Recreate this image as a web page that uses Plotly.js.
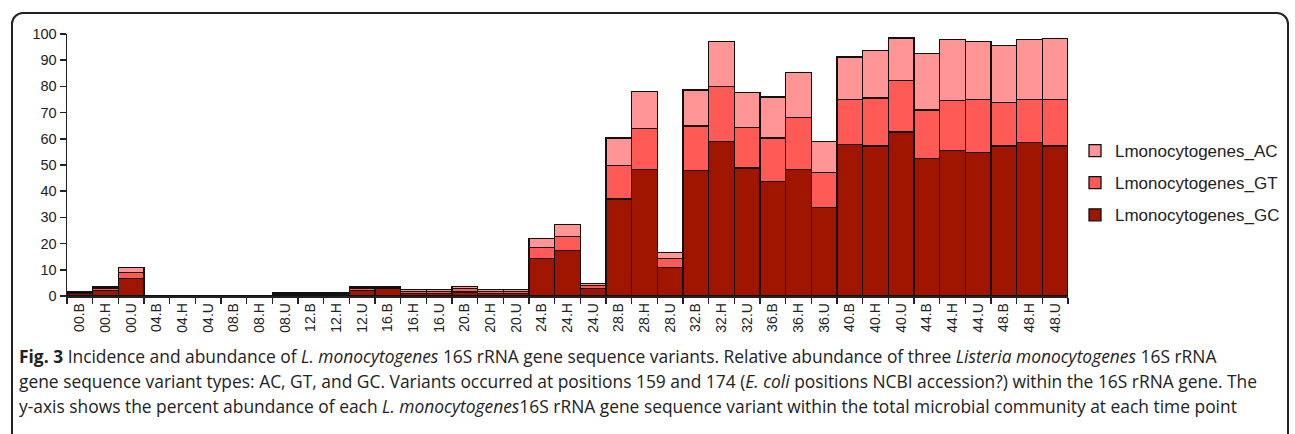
<!DOCTYPE html>
<html>
<head>
<meta charset="utf-8">
<script src="https://cdn.plot.ly/plotly-3.0.1.min.js"></script>
<style>
  html, body { margin:0; padding:0; background:#fff; width:1295px; height:434px; overflow:hidden; }
  #frame { position:absolute; left:11px; top:12px; width:1278px; height:440px; border:2px solid #222; border-radius:12px; box-sizing:border-box; }
  #chart { position:absolute; left:0; top:0; width:1320px; height:345px; }
  #caption { position:absolute; left:19px; top:344px; font-family:"Open Sans", sans-serif; font-size:17.4px; line-height:25px; color:#222; white-space:nowrap; }
</style>
</head>
<body>
<div id="frame"></div>
<div id="chart"></div>
<div id="caption">
<div><b>Fig. 3</b> Incidence and abundance of <i>L. monocytogenes</i> 16S rRNA gene sequence variants. Relative abundance of three <i>Listeria monocytogenes</i> 16S rRNA</div>
<div>gene sequence variant types: AC, GT, and GC. Variants occurred at positions 159 and 174 (<i>E. coli</i> positions NCBI accession?) within the 16S rRNA gene. The</div>
<div>y-axis shows the percent abundance of each <i>L. monocytogenes</i>16S rRNA gene sequence variant within the total microbial community at each time point</div>
</div>
<script>
const categories = ["00.B","00.H","00.U","04.B","04.H","04.U","08.B","08.H","08.U",
  "12.B","12.H","12.U","16.B","16.H","16.U","20.B","20.H","20.U",
  "24.B","24.H","24.U","28.B","28.H","28.U","32.B","32.H","32.U",
  "36.B","36.H","36.U","40.B","40.H","40.U","44.B","44.H","44.U",
  "48.B","48.H","48.U"];

const GC = [1.2,2.1,6.7,0.2,0.2,0.2,0.2,0.2,0.5,
  0.5,0.5,2.1,2.8,1.0,1.0,1.5,1.0,1.0,
  14.3,17.4,2.9,37.0,48.4,10.8,47.9,59.1,48.9,
  43.6,48.4,33.9,57.7,57.3,62.6,52.6,55.5,54.9,
  57.3,58.6,57.3];

const GT = [0.2,0.9,2.3,0.05,0.05,0.05,0.05,0.05,0.4,
  0.4,0.4,0.9,0.5,0.8,0.8,1.4,0.8,0.8,
  4.1,5.3,1.0,12.7,15.5,3.5,17.0,20.8,15.5,
  16.7,19.6,13.2,17.4,18.3,19.6,18.4,19.1,20.2,
  16.5,16.5,17.8];

const AC = [0.2,0.7,1.9,0.05,0.05,0.05,0.05,0.05,0.4,
  0.4,0.4,0.7,0.4,0.6,0.6,0.8,0.6,0.6,
  3.6,4.6,0.9,10.6,14.2,2.3,13.7,17.3,13.2,
  15.6,17.4,12.0,16.1,18.0,16.3,21.6,23.2,22.1,
  21.7,22.7,23.3];

const seriesNames = ["Lmonocytogenes_GC","Lmonocytogenes_GT","Lmonocytogenes_AC"];
const seriesColors = ["#a01500","#ff5a55","#ff9595"];
const seriesValues = [GC, GT, AC];
const legendRanks = [3, 2, 1];

const traces = seriesValues.map((vals, i) => ({
  type: "bar",
  x: categories,
  y: vals,
  name: seriesNames[i],
  legendgroup: "g" + i,
  legendrank: legendRanks[i],
  marker: { color: seriesColors[i], line: { color: "#111", width: 1.3 } },
  hoverinfo: "x+y+name"
}));

const layout = {
  width: 1320, height: 345,
  margin: { l: 67, r: 252, t: 34, b: 49, pad: 0 },
  barmode: "stack",
  bargap: 0,
  paper_bgcolor: "rgba(0,0,0,0)",
  plot_bgcolor: "rgba(0,0,0,0)",
  font: { family: "Liberation Sans, Arial, sans-serif", color: "#222", size: 14 },
  showlegend: true,
  legend: {
    x: 1.007, xanchor: "left", y: 0.622, yanchor: "top",
    traceorder: "grouped", tracegroupgap: 7,
    font: { size: 17, family: "Liberation Sans, Arial, sans-serif", color: "#222" },
    bgcolor: "rgba(0,0,0,0)"
  },
  xaxis: {
    type: "category",
    tickangle: -90,
    ticks: "outside", ticklen: 6, tickwidth: 1.5, tickcolor: "#222",
    tickson: "boundaries",
    showline: true, linecolor: "#222", linewidth: 1.5,
    showgrid: false, zeroline: false,
    tickfont: { size: 14, family: "Liberation Sans, Arial, sans-serif", color: "#222" },
    range: [-0.5, 38.5]
  },
  yaxis: {
    range: [0, 100], dtick: 10,
    ticks: "outside", ticklen: 6, tickwidth: 1.5, tickcolor: "#222",
    showline: true, linecolor: "#222", linewidth: 1.5,
    showgrid: false, zeroline: false,
    tickfont: { size: 14.5, family: "Liberation Sans, Arial, sans-serif", color: "#222" }
  }
};

Plotly.newPlot("chart", traces, layout, { displayModeBar: false, staticPlot: true });
</script>
</body>
</html>
